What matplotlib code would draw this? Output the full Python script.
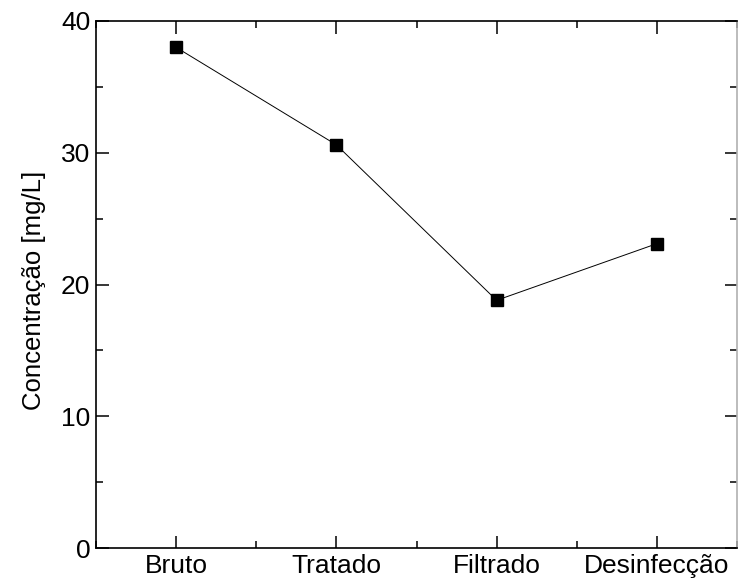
import matplotlib.pyplot as plt
from matplotlib.ticker import MultipleLocator

plt.rcParams['font.family'] = ['Liberation Sans', 'DejaVu Sans']

etapas = ['Bruto', 'Tratado', 'Filtrado', 'Desinfecção']
concentracao = [38.0, 30.6, 18.8, 23.1]
posicoes = [1, 2, 3, 4]

fig = plt.figure(figsize=(7.38, 5.85), dpi=100)
ax = fig.add_axes([96 / 738, 1 - 548 / 585, 641 / 738, 527 / 585])

ax.plot(posicoes, concentracao, color='black', linewidth=0.7,
        marker='s', markersize=8, markerfacecolor='black', markeredgecolor='black')

ax.set_xlim(0.5, 4.5)
ax.set_ylim(0, 40)
ax.set_xticks(posicoes)
ax.set_xticklabels(etapas)
ax.xaxis.set_minor_locator(MultipleLocator(1, offset=0.5))
ax.yaxis.set_major_locator(MultipleLocator(10))
ax.yaxis.set_minor_locator(MultipleLocator(5))

ax.tick_params(which='both', direction='in', top=True, right=True,
               labelsize=19, width=1.1, pad=4)
ax.tick_params(which='major', length=9)
ax.tick_params(which='minor', length=5)
for spine in ax.spines.values():
    spine.set_linewidth(1.2)
ax.spines['right'].set_color('#b0b0b0')

ax.set_ylabel('Concentração [mg/L]', fontsize=18.5)
ax.yaxis.set_label_coords(-0.078, 0.488)

fig.savefig('out.png', dpi=100)
